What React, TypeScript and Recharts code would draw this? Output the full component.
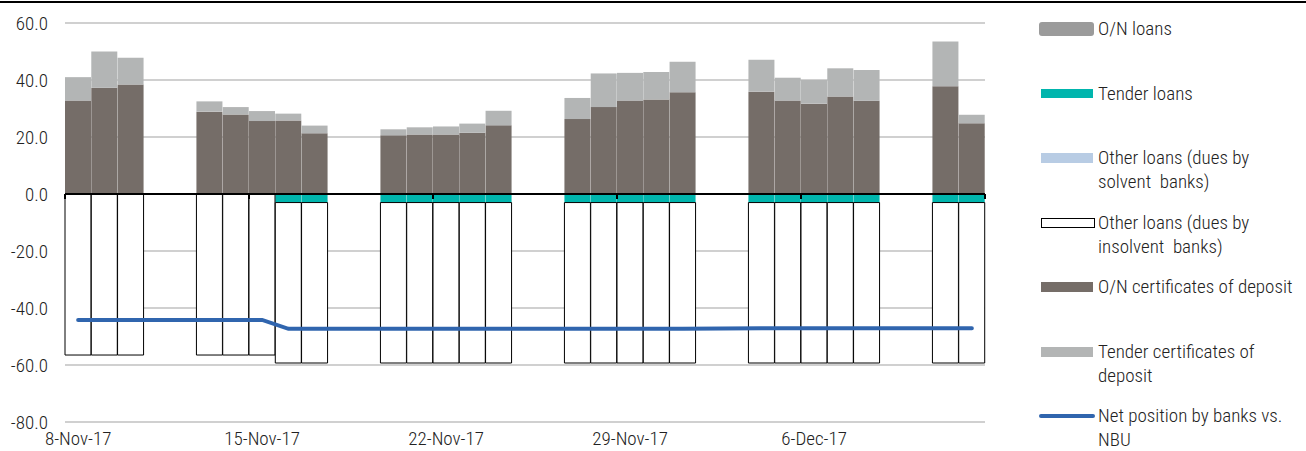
import React from 'react';
import { ComposedChart, Bar, Line, XAxis, YAxis, CartesianGrid, ReferenceLine } from 'recharts';

const dates = ['8-Nov-17','9-Nov-17','10-Nov-17','11-Nov-17','12-Nov-17','13-Nov-17','14-Nov-17','15-Nov-17','16-Nov-17','17-Nov-17','18-Nov-17','19-Nov-17','20-Nov-17','21-Nov-17','22-Nov-17','23-Nov-17','24-Nov-17','25-Nov-17','26-Nov-17','27-Nov-17','28-Nov-17','29-Nov-17','30-Nov-17','1-Dec-17','2-Dec-17','3-Dec-17','4-Dec-17','5-Dec-17','6-Dec-17','7-Dec-17','8-Dec-17','9-Dec-17','10-Dec-17','11-Dec-17','12-Dec-17'];

const onLoans = [0,0,0,null,null,0,0,0,0,0,null,null,0,0,0,0,0,null,null,0,0,0,0,0,null,null,0,0,0,0,0,null,null,0,0];
const tenderLoans = [0,0,0,null,null,0,0,0,-3.0,-3.0,null,null,-3.0,-3.0,-3.0,-3.0,-3.0,null,null,-3.0,-3.0,-3.0,-3.0,-3.0,null,null,-3.0,-3.0,-3.0,-3.0,-3.0,null,null,-3.0,-3.0];
const otherSolvent = [0,0,0,null,null,0,0,0,0,0,null,null,0,0,0,0,0,null,null,0,0,0,0,0,null,null,0,0,0,0,0,null,null,0,0];
const otherInsolvent = [-56.5,-56.5,-56.5,null,null,-56.5,-56.5,-56.5,-56.3,-56.3,null,null,-56.3,-56.3,-56.3,-56.3,-56.3,null,null,-56.3,-56.3,-56.3,-56.3,-56.3,null,null,-56.3,-56.3,-56.3,-56.3,-56.3,null,null,-56.3,-56.3];
const onCD = [32.8,37.3,38.4,null,null,28.9,27.9,25.6,25.8,21.3,null,null,20.6,20.9,20.9,21.5,24.1,null,null,26.3,30.5,32.8,33.2,35.7,null,null,35.9,32.8,31.7,34.2,32.7,null,null,37.8,24.8];
const tenderCD = [8.2,12.7,9.4,null,null,3.6,2.6,3.5,2.4,2.7,null,null,2.1,2.5,2.8,3.2,5.1,null,null,7.4,11.8,9.7,9.6,10.7,null,null,11.2,8.0,8.3,9.9,10.8,null,null,15.7,3.0];
const netPosition = [-44.2,-44.2,-44.2,null,null,-44.2,-44.2,-44.2,-47.3,-47.3,null,null,-47.3,-47.3,-47.3,-47.3,-47.3,null,null,-47.3,-47.3,-47.3,-47.3,-47.3,null,null,-47.1,-47.1,-47.1,-47.1,-47.1,null,null,-47.1,-47.1];

const xTickLabels = ['8-Nov-17','15-Nov-17','22-Nov-17','29-Nov-17','6-Dec-17'];
const yTicks = [-80,-60,-40,-20,0,20,40,60];

const seriesNames = {
  onLoans: 'O/N loans',
  tenderLoans: 'Tender loans',
  otherSolvent: 'Other loans (dues by solvent  banks)',
  otherInsolvent: 'Other loans (dues by insolvent  banks)',
  onCD: 'O/N certificates of deposit',
  tenderCD: 'Tender certificates of deposit',
  net: 'Net position by banks vs. NBU',
};

const legendLines = [
  ['O/N loans'],
  ['Tender loans'],
  ['Other loans (dues by', 'solvent  banks)'],
  ['Other loans (dues by', 'insolvent  banks)'],
  ['O/N certificates of deposit'],
  ['Tender certificates of', 'deposit'],
  ['Net position by banks vs.', 'NBU'],
];

const data = dates.map((d, i) => ({
  date: d,
  onLoans: onLoans[i],
  tenderLoans: tenderLoans[i],
  otherSolvent: otherSolvent[i],
  otherInsolvent: otherInsolvent[i],
  onCD: onCD[i],
  tenderCD: tenderCD[i],
  net: netPosition[i],
}));

const FONT = "'Liberation Sans Narrow', 'Arial Narrow', 'Roboto Condensed', sans-serif";
const TXT = '#222';

const C = {
  onLoans: '#9b9b9b',
  tenderLoans: '#00b5ad',
  otherSolvent: '#b8cce4',
  otherInsolvent: '#ffffff',
  onCD: '#756d68',
  tenderCD: '#b3b5b5',
  net: '#3065ae',
};

const ZeroLine = (props: any) => {
  const { x1, x2, y1 } = props;
  const ticks = [0, 0.2, 0.4, 0.6, 0.8, 1].map((f) => x1 + (x2 - x1) * f);
  return (
    <g>
      <line x1={x1} x2={x2} y1={y1} y2={y1} stroke="#000" strokeWidth={2} />
      {ticks.map((tx, i) => (
        <line key={i} x1={tx} x2={tx} y1={y1} y2={y1 + 5} stroke="#000" strokeWidth={2} />
      ))}
    </g>
  );
};

const swatch = (i: number) => {
  const base: React.CSSProperties = { position: 'absolute', left: 0, width: 52 };
  switch (i) {
    case 0:
      return <div style={{ ...base, left: -2, width: 55, height: 14, top: 5, background: C.onLoans, borderRadius: 3 }} />;
    case 1:
      return <div style={{ ...base, height: 9, top: 7.5, background: C.tenderLoans }} />;
    case 2:
      return <div style={{ ...base, height: 10, top: 7, background: C.otherSolvent }} />;
    case 3:
      return <div style={{ ...base, height: 8, top: 7, background: '#fff', border: '1px solid #000' }} />;
    case 4:
      return <div style={{ ...base, height: 10, top: 7, background: C.onCD }} />;
    case 5:
      return <div style={{ ...base, height: 10, top: 7, background: C.tenderCD }} />;
    default:
      return <div style={{ ...base, left: -2, width: 56, height: 4, top: 10, background: C.net, borderRadius: 2 }} />;
  }
};

export default function App() {
  return (
    <div style={{ position: 'absolute', left: 0, top: 0, width: 1306, height: 451, background: '#fff', fontFamily: FONT, fontWeight: 300, overflow: 'hidden' }}>
      <div style={{ position: 'absolute', left: 0, top: 1, width: 1306, height: 2, background: '#000' }} />
      <div style={{ position: 'absolute', left: 0, top: 0 }}>
        <ComposedChart
          width={1000}
          height={451}
          data={data}
          margin={{ top: 23, right: 15, bottom: 0, left: 0 }}
          stackOffset="sign"
          barCategoryGap={0}
          barGap={0}
        >
          <CartesianGrid horizontal vertical={false} stroke="#d0d0d0" strokeWidth={2} />
          <XAxis
            dataKey="date"
            interval={0}
            tickLine={false}
            axisLine={false}
            height={29}
            tickMargin={4}
            tick={{ fontSize: 19, fill: TXT, fontFamily: FONT, fontWeight: 300 }}
            tickFormatter={(v: string) => (xTickLabels.includes(v) ? v : '')}
          />
          <YAxis
            domain={[-80, 60]}
            ticks={yTicks}
            width={65}
            tickLine={false}
            axisLine={false}
            tickMargin={11}
            interval={0}
            tick={{ fontSize: 19, fill: TXT, fontFamily: FONT, fontWeight: 300 }}
            tickFormatter={(v: number) => v.toFixed(1)}
          />
          <Bar dataKey="onLoans" name={seriesNames.onLoans} stackId="a" fill={C.onLoans} isAnimationActive={false} />
          <Bar dataKey="tenderLoans" name={seriesNames.tenderLoans} stackId="a" fill={C.tenderLoans} isAnimationActive={false} />
          <Bar dataKey="otherSolvent" name={seriesNames.otherSolvent} stackId="a" fill={C.otherSolvent} isAnimationActive={false} />
          <Bar dataKey="otherInsolvent" name={seriesNames.otherInsolvent} stackId="a" fill={C.otherInsolvent} stroke="#000" strokeWidth={1} isAnimationActive={false} />
          <Bar dataKey="onCD" name={seriesNames.onCD} stackId="a" fill={C.onCD} isAnimationActive={false} />
          <Bar dataKey="tenderCD" name={seriesNames.tenderCD} stackId="a" fill={C.tenderCD} isAnimationActive={false} />
          <ReferenceLine y={0} stroke="#000" strokeWidth={2} shape={ZeroLine} />
          <Line
            dataKey="net"
            name={seriesNames.net}
            type="linear"
            stroke={C.net}
            strokeWidth={4}
            strokeLinecap="round"
            dot={false}
            activeDot={false}
            connectNulls
            isAnimationActive={false}
          />
        </ComposedChart>
      </div>
      {legendLines.map((lines, i) => (
        <div
          key={i}
          style={{ position: 'absolute', left: 1041, top: 29 + 64.5 * i - 12, width: 265 }}
        >
          {swatch(i)}
          <div style={{ position: 'absolute', left: 57, top: 0, fontSize: 19, lineHeight: '24px', color: TXT, whiteSpace: 'pre' }}>
            {lines.map((l, j) => (
              <div key={j}>{l}</div>
            ))}
          </div>
        </div>
      ))}
    </div>
  );
}
